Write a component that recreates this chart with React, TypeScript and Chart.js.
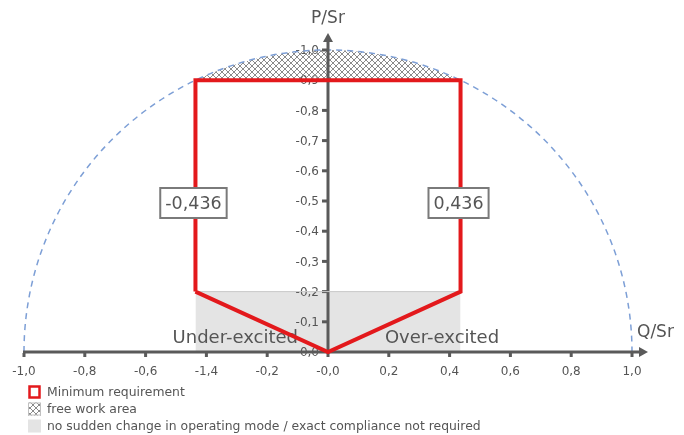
import React, { useEffect, useRef } from "react";
import { Chart, registerables } from "chart.js";

Chart.register(...registerables);

// ---- data ----
const qTickValues = [-1, -0.8, -0.6, -0.4, -0.2, 0, 0.2, 0.4, 0.6, 0.8, 1];
const qTickLabels = ["-1,0", "-0,8", "-0,6", "-1,4", "-0,2", "-0,0", "0,2", "0,4", "0,6", "0,8", "1,0"];
const pTickValues = [0, 0.1, 0.2, 0.3, 0.4, 0.5, 0.6, 0.7, 0.8, 0.9, 1.0];
const pTickLabels = ["0,0", "-0,1", "-0,2", "-0,3", "-0,4", "-0,5", "-0,6", "-0,7", "-0,8", "-0,9", "-1,0"];

const minReqQ = [-0.436, -0.436, 0.436, 0.436, 0, -0.436];
const minReqP = [0.2, 0.9, 0.9, 0.2, 0, 0.2];

const noChangeQ = [-0.436, 0.436];
const noChangeP = [0.2, 0.2];

const freeAreaQ = [-0.436, 0.436];
const freeAreaFloorP = 0.9;
const circleRadius = 1;

const valueBoxQ = [-0.436, 0.436];
const valueBoxLabels = ["-0,436", "0,436"];
const valueBoxP = 0.5;

const regionLabels = ["Under-excited", "Over-excited"];
const axisTitles = ["Q/Sr", "P/Sr"];
const legendLabels = [
  "Minimum requirement",
  "free work area",
  "no sudden change in operating mode / exact compliance not required",
];

// ---- styles ----
const RED = "#e3191c";
const GREY_TEXT = "#555555";
const AXIS = "#5a5a5a";
const BOX_FILL = "#e4e4e4";
const BOX_EDGE = "#c9c9c9";
const CIRCLE = "#7d9fd6";
const FONT = "'DejaVu Sans', sans-serif";

function makeHatch(ctx: CanvasRenderingContext2D) {
  const c = document.createElement("canvas");
  const s = 6;
  c.width = s;
  c.height = s;
  const g = c.getContext("2d")!;
  g.strokeStyle = "#8a8a8a";
  g.lineWidth = 1;
  g.beginPath();
  g.moveTo(0, 0);
  g.lineTo(s, s);
  g.moveTo(s, 0);
  g.lineTo(0, s);
  g.stroke();
  return ctx.createPattern(c, "repeat")!;
}

const drawPlugin = {
  id: "pqDiagram",
  beforeDatasetDraw(chart: any, args: any) {
    if (args.index !== 1) return;
    const ctx: CanvasRenderingContext2D = chart.ctx;
    const xs = chart.scales.x;
    const ys = chart.scales.y;
    const px = (v: number) => xs.getPixelForValue(v);
    const py = (v: number) => ys.getPixelForValue(v);
    const cx = px(0);
    const cy = py(0);
    const rx = px(circleRadius) - cx;
    const ry = cy - py(circleRadius);

    ctx.save();
    // tick labels (y)
    ctx.fillStyle = GREY_TEXT;
    ctx.font = `12px ${FONT}`;
    ctx.textAlign = "right";
    ctx.textBaseline = "middle";
    pTickValues.forEach((v, i) => {
      ctx.fillText(pTickLabels[i], cx - 9, py(v) + 1);
    });
    // tick labels (x)
    ctx.textAlign = "center";
    ctx.textBaseline = "middle";
    ctx.font = `12px ${FONT}`;
    qTickValues.forEach((v, i) => {
      ctx.fillText(qTickLabels[i], px(v), cy + 20);
    });

    // hatched cap
    const t0 = Math.atan2(-freeAreaFloorP / circleRadius, freeAreaQ[0] / circleRadius);
    const t1 = Math.atan2(-freeAreaFloorP / circleRadius, freeAreaQ[1] / circleRadius);
    ctx.beginPath();
    ctx.ellipse(cx, cy, rx, ry, 0, t0, t1, false);
    ctx.closePath();
    ctx.fillStyle = makeHatch(ctx);
    ctx.fill();

    // dashed circle
    ctx.beginPath();
    ctx.ellipse(cx, cy, rx, ry, 0, Math.PI, 2 * Math.PI, false);
    ctx.setLineDash([6, 5]);
    ctx.strokeStyle = CIRCLE;
    ctx.lineWidth = 1.5;
    ctx.stroke();
    ctx.setLineDash([]);

    // axes
    ctx.strokeStyle = AXIS;
    ctx.fillStyle = AXIS;
    ctx.lineWidth = 3;
    const xEnd = px(1) + 16;
    const yEnd = py(1) - 17;
    ctx.beginPath();
    ctx.moveTo(px(-1) - 1, cy);
    ctx.lineTo(xEnd - 6, cy);
    ctx.stroke();
    ctx.beginPath();
    ctx.moveTo(xEnd, cy);
    ctx.lineTo(xEnd - 9, cy - 5);
    ctx.lineTo(xEnd - 9, cy + 5);
    ctx.closePath();
    ctx.fill();
    ctx.beginPath();
    ctx.moveTo(cx, cy + 1);
    ctx.lineTo(cx, yEnd + 6);
    ctx.stroke();
    ctx.beginPath();
    ctx.moveTo(cx, yEnd);
    ctx.lineTo(cx - 5, yEnd + 9);
    ctx.lineTo(cx + 5, yEnd + 9);
    ctx.closePath();
    ctx.fill();
    // tick marks
    qTickValues.forEach((v) => {
      ctx.fillRect(px(v) - 1.5, cy + 1, 3, 4);
    });
    pTickValues.forEach((v) => {
      if (v === 0) return;
      ctx.fillRect(cx - 6, py(v) - 1.5, 5, 3);
    });

    // region labels
    ctx.fillStyle = GREY_TEXT;
    ctx.font = `18px ${FONT}`;
    ctx.textAlign = "center";
    ctx.textBaseline = "middle";
    ctx.fillText(regionLabels[0], px(-0.305), cy - 14);
    ctx.fillText(regionLabels[1], px(0.375), cy - 14);
    ctx.restore();
  },
  afterDatasetsDraw(chart: any) {
    const ctx: CanvasRenderingContext2D = chart.ctx;
    const xs = chart.scales.x;
    const ys = chart.scales.y;
    const px = (v: number) => xs.getPixelForValue(v);
    const py = (v: number) => ys.getPixelForValue(v);
    ctx.save();
    // value boxes
    ctx.font = `17.5px ${FONT}`;
    ctx.textAlign = "center";
    ctx.textBaseline = "middle";
    valueBoxQ.forEach((q, i) => {
      const label = valueBoxLabels[i];
      const w = ctx.measureText(label).width + 10;
      const h = 30;
      const x = px(q) - 2;
      const y = py(valueBoxP) + 2;
      ctx.fillStyle = "#ffffff";
      ctx.fillRect(x - w / 2, y - h / 2, w, h);
      ctx.strokeStyle = "#7a7a7a";
      ctx.lineWidth = 2;
      ctx.strokeRect(x - w / 2, y - h / 2, w, h);
      ctx.fillStyle = GREY_TEXT;
      ctx.fillText(label, x, y + 1);
    });

    // axis titles
    ctx.font = `17px ${FONT}`;
    ctx.fillStyle = GREY_TEXT;
    ctx.textAlign = "left";
    ctx.fillText(axisTitles[0], px(1) + 5, py(0) - 19);
    ctx.textAlign = "center";
    ctx.fillText(axisTitles[1], px(0), 19);

    // legend
    const lx = 28;
    const ly = [392, 409, 426];
    ctx.font = `12.4px ${FONT}`;
    ctx.textAlign = "left";
    ctx.textBaseline = "middle";
    // red square
    ctx.strokeStyle = RED;
    ctx.lineWidth = 2.5;
    ctx.strokeRect(lx + 1.5, ly[0] - 5.5, 10, 11);
    // hatch square
    ctx.fillStyle = "#ffffff";
    ctx.fillRect(lx, ly[1] - 6.5, 13, 13);
    ctx.fillStyle = makeHatch(ctx);
    ctx.fillRect(lx, ly[1] - 6.5, 13, 13);
    ctx.strokeStyle = "#c0c0c0";
    ctx.lineWidth = 1;
    ctx.strokeRect(lx + 0.5, ly[1] - 6, 12, 12);
    // grey square
    ctx.fillStyle = BOX_FILL;
    ctx.fillRect(lx, ly[2] - 6.5, 13, 13);
    ctx.fillStyle = GREY_TEXT;
    legendLabels.forEach((t, i) => ctx.fillText(t, lx + 19, ly[i] + 1));
    ctx.restore();
  },
};

export default function App() {
  const ref = useRef<HTMLCanvasElement | null>(null);
  useEffect(() => {
    if (!ref.current) return;
    const chart = new Chart(ref.current, {
      type: "line",
      data: {
        datasets: [
          {
            label: legendLabels[0],
            data: minReqQ.map((q, i) => ({ x: q, y: minReqP[i] })),
            borderColor: RED,
            borderWidth: 4,
            pointRadius: 0,
            tension: 0,
            fill: false,
            clip: false,
            order: 1,
            borderJoinStyle: "miter",
          } as any,
          {
            label: legendLabels[2],
            data: noChangeQ.map((q, i) => ({ x: q, y: noChangeP[i] })),
            borderColor: BOX_EDGE,
            borderWidth: 1,
            backgroundColor: BOX_FILL,
            pointRadius: 0,
            fill: "origin",
            order: 2,
          } as any,
        ],
      },
      options: {
        responsive: false,
        animation: false,
        layout: { padding: { left: 24, right: 52, top: 50, bottom: 83 } },
        plugins: { legend: { display: false }, tooltip: { enabled: false } },
        scales: {
          x: { type: "linear", min: -1, max: 1, display: false },
          y: { type: "linear", min: 0, max: 1, display: false },
        },
      },
      plugins: [drawPlugin],
    });
    return () => chart.destroy();
  }, []);
  return (
    <div style={{ position: "fixed", left: 0, top: 0, width: 684, height: 435, background: "#fff" }}>
      <canvas ref={ref} width={684} height={435} style={{ display: "block" }} />
    </div>
  );
}
